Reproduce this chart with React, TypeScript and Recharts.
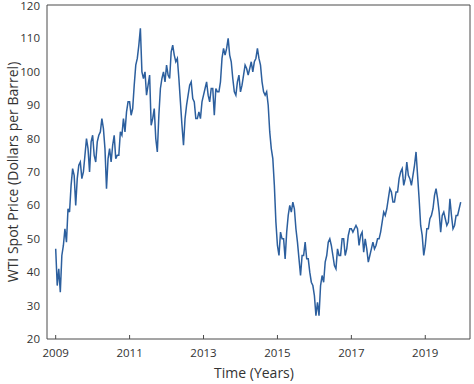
import React from "react";
import { Line, LineChart, XAxis, YAxis } from "recharts";

const INK = "#333333";
const AXIS = "#4a4a4a";
const BLUE = "#2c5f9e";
const FONT = "'Open Sans', 'Noto Sans', sans-serif";

// WTI spot price, two readings per month (first half, second half)
const P2009 = [47, 36, 41, 34, 45, 48, 53, 49, 59, 58, 66, 71, 69, 60, 68, 72, 73, 68, 70, 75, 80, 77, 70, 79];
const P2010 = [81, 75, 73, 79, 81, 82, 86, 83, 77, 65, 74, 77, 73, 78, 81, 74, 75, 75, 82, 81, 86, 82, 88, 91];
const P2011 = [91, 87, 89, 96, 102, 104, 108, 113, 100, 98, 100, 93, 96, 99, 84, 86, 89, 80, 76, 87, 95, 98, 100, 97];
const P2012 = [102, 99, 98, 106, 108, 105, 103, 104, 98, 91, 84, 78, 86, 90, 93, 96, 97, 92, 91, 86, 86, 88, 86, 91];
const P2013 = [93, 95, 97, 93, 91, 95, 95, 87, 95, 94, 94, 97, 104, 107, 105, 107, 110, 105, 103, 98, 94, 93, 97, 99];
const P2014 = [94, 96, 99, 102, 101, 99, 101, 103, 100, 103, 104, 107, 104, 102, 97, 94, 93, 94, 90, 82, 77, 74, 66, 55];
const P2015 = [48, 45, 52, 50, 50, 44, 52, 57, 60, 58, 61, 59, 53, 49, 44, 39, 45, 45, 49, 44, 44, 40, 37, 36];
const P2016 = [33, 27, 31, 27, 36, 39, 37, 43, 45, 49, 50, 48, 45, 42, 41, 47, 45, 45, 50, 50, 45, 47, 51, 53];
const P2017 = [53, 52, 53, 54, 53, 48, 51, 52, 46, 50, 47, 43, 45, 47, 49, 47, 48, 50, 50, 52, 55, 58, 57, 59];
const P2018 = [62, 65, 64, 61, 61, 64, 64, 68, 70, 71, 66, 68, 73, 69, 68, 66, 69, 72, 76, 69, 62, 54, 51, 45];
const P2019 = [48, 53, 53, 56, 57, 59, 63, 65, 62, 58, 52, 57, 58, 56, 54, 55, 62, 57, 53, 54, 57, 57, 59, 61];

const START_YEAR = 2009;
const PRICES = [P2009, P2010, P2011, P2012, P2013, P2014, P2015, P2016, P2017, P2018, P2019].flat();

const X_TICKS = [2009, 2011, 2013, 2015, 2017, 2019];
const Y_TICKS = [20, 30, 40, 50, 60, 70, 80, 90, 100, 110, 120];
const X_DOMAIN: [number, number] = [2008.765, 2020.21];
const Y_DOMAIN: [number, number] = [20, 120];

const data = PRICES.map((price, i) => ({ t: START_YEAR + i / 24, price }));

export default function App() {
  return (
    <div style={{ position: "absolute", left: 0, top: 0, width: 474, height: 384, background: "#fff" }}>
      <LineChart width={474} height={384} data={data} margin={{ top: 4, right: 3, left: 0, bottom: 0 }}>
        <XAxis
          xAxisId="b"
          type="number"
          dataKey="t"
          domain={X_DOMAIN}
          ticks={X_TICKS}
          allowDataOverflow
          height={45}
          tickSize={-4}
          tickMargin={14}
          stroke={AXIS}
          tick={{ fontSize: 11.5, fill: INK, fontFamily: FONT }}
          label={{
            content: () => (
              <text x={254} y={378} textAnchor="middle" fontSize={14} fill={INK} fontFamily={FONT}>
                Time (Years)
              </text>
            ),
          }}
        />
        {/* box top edge with inward ticks */}
        <XAxis
          xAxisId="top"
          type="number"
          dataKey="t"
          orientation="top"
          domain={X_DOMAIN}
          ticks={X_TICKS}
          allowDataOverflow
          height={1}
          tickSize={-4}
          tick={false}
          stroke={AXIS}
        />
        <YAxis
          yAxisId="l"
          domain={Y_DOMAIN}
          ticks={Y_TICKS}
          width={47}
          tickLine={false}
          tickSize={0}
          tickMargin={7}
          stroke={AXIS}
          tick={{ fontSize: 11.5, fill: INK, fontFamily: FONT }}
          label={{
            content: () => (
              <text
                x={12}
                y={172}
                transform="rotate(-90 12 172)"
                textAnchor="middle"
                dominantBaseline="central"
                fontSize={14}
                fill={INK}
                fontFamily={FONT}
              >
                WTI Spot Price (Dollars per Barrel)
              </text>
            ),
          }}
        />
        {/* box right edge with inward ticks */}
        <YAxis
          yAxisId="r"
          orientation="right"
          domain={Y_DOMAIN}
          ticks={Y_TICKS}
          width={1}
          tickSize={-4}
          tick={false}
          stroke={AXIS}
        />
        <Line
          xAxisId="b"
          yAxisId="l"
          type="linear"
          dataKey="price"
          stroke={BLUE}
          strokeWidth={1.5}
          dot={false}
          isAnimationActive={false}
        />
      </LineChart>
    </div>
  );
}
